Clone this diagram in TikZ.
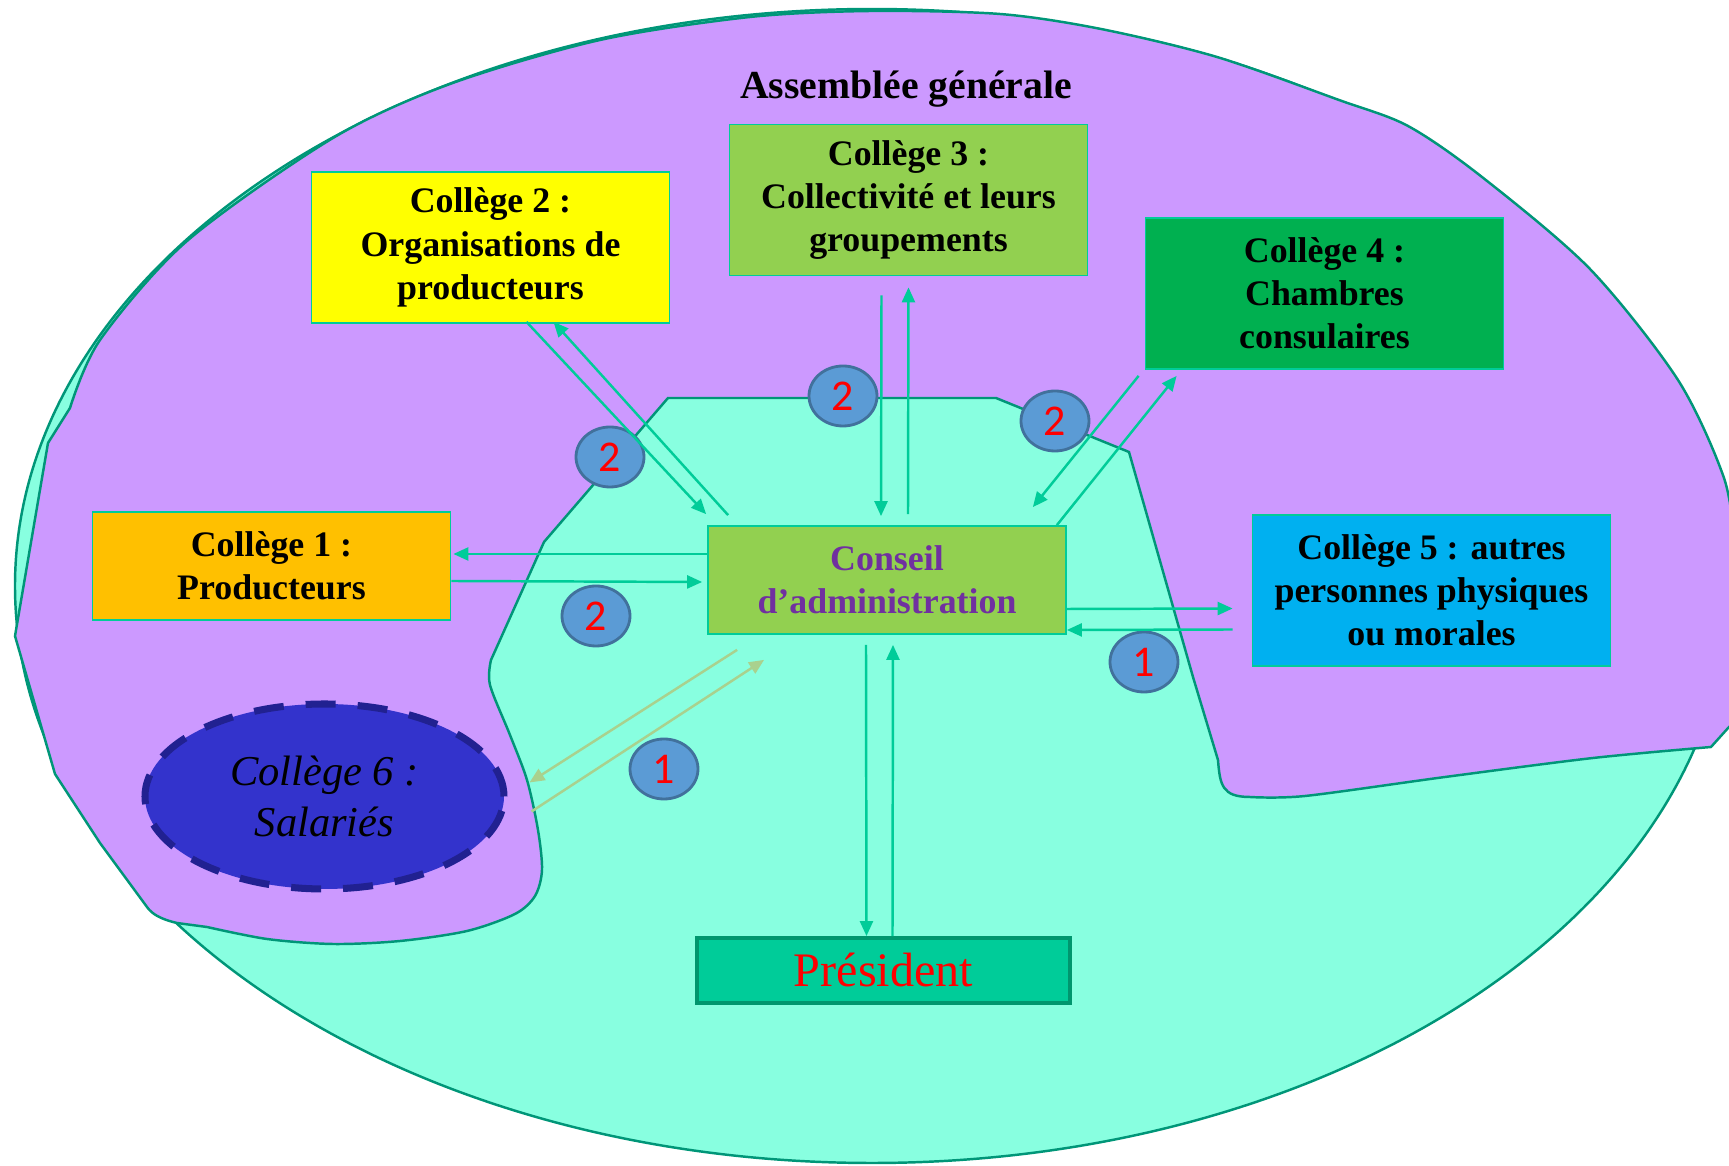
\documentclass[tikz,border=0pt]{standalone}
\usepackage{fontspec}
\setmainfont{Liberation Serif}
\newfontfamily\numfont{Carlito}
\usepackage{tikz}
\usetikzlibrary{positioning}
\usetikzlibrary{calc}
\usetikzlibrary{arrows.meta}
\usetikzlibrary{shapes.geometric}
\usepackage{xcolor}

\definecolor{aqua}{RGB}{136,255,224}
\definecolor{lilas}{RGB}{204,153,255}
\definecolor{bord}{RGB}{0,150,120}
\definecolor{fleche}{RGB}{0,204,153}
\definecolor{flechepale}{RGB}{169,209,142}
\definecolor{jaune}{RGB}{255,255,0}
\definecolor{orangeC}{RGB}{255,192,0}
\definecolor{vertclair}{RGB}{146,208,80}
\definecolor{vertfonce}{RGB}{0,176,80}
\definecolor{bleuciel}{RGB}{0,176,240}
\definecolor{vertpres}{RGB}{0,204,153}
\definecolor{bordpres}{RGB}{0,150,110}
\definecolor{bleuC}{RGB}{51,51,204}
\definecolor{bordC}{RGB}{33,33,145}
\definecolor{bleupastille}{RGB}{91,155,213}
\definecolor{bordpastille}{RGB}{65,113,156}
\definecolor{violetCA}{RGB}{112,48,160}

\begin{document}
\begin{tikzpicture}[x=0.1mm, y=-0.1mm,
		college/.style={draw=fleche, line width=0.5pt, minimum width=35.8mm, minimum height=15.1mm, inner sep=0pt, align=center, font=\bfseries\fontsize{10.2}{12.3}\selectfont},
		pastille/.style={ellipse, draw=bordpastille, line width=0.8pt, fill=bleupastille, minimum width=6.8mm, minimum height=6mm, inner sep=0pt, text=red, font=\numfont\fontsize{12.5}{12.5}\selectfont},
		lien/.style={draw=fleche, line width=0.7pt, -{Triangle[length=1.5mm, width=1.3mm]}},
		lienpale/.style={lien, draw=flechepale}]
	\useasboundingbox (0,0) rectangle (1729,1166);
	\filldraw[fill=aqua, draw=bord, line width=0.7pt] (872,586) ellipse [x radius=857, y radius=577];
	\filldraw[fill=lilas, draw=bord, line width=0.7pt] (15,636) -- (48,443) -- (70,408)
		-- plot [smooth] coordinates {(70,408) (100,340) (187,241) (333,138) (450,84) (600,40) (750,17) (871,11) (1000,14) (1101,29) (1217,57) (1339,100) (1408,126) (1482,177) (1590,269) (1678,380) (1724,478) (1735,545)}
		-- (1760,545) -- (1760,700) -- (1729,727) -- (1711,747)
		-- plot [smooth] coordinates {(1711,747) (1593,758) (1445,777) (1305,796) (1250,797)}
		.. controls (1222,797) and (1220,785) .. (1218,760)
		-- (1193,677) -- (1129,452) -- (996,398) -- (668,398) -- (544,542) -- (491,660)
		-- plot [smooth] coordinates {(491,660) (490,685) (510,735) (527,780) (538,830) (542,870) (535,896) (515,914) (467,931) (400,941) (333,944) (267,939) (207,927)}
		-- (177,923) .. controls (160,919) and (152,914) .. (147,907)
		-- (100,843) -- (55,774) -- cycle;

	\node[font=\bfseries\fontsize{11.3}{13}\selectfont, anchor=base] (ag) at (906,99) {Assemblée générale};
	\node[college, fill=jaune] (c2) at (490.5,247.5) {Collège 2 :\\Organisations de\\producteurs};
	\node[college, fill=vertclair] (c3) at (908.5,200) {Collège 3 :\\Collectivité et leurs\\groupements};
	\node[college, fill=vertfonce] (c4) at (1324.5,293.5) {Collège 4 :\\Chambres\\consulaires};
	\node[college, fill=orangeC, minimum height=10.8mm] (c1) at (271.5,566) {Collège 1 :\\Producteurs};
	\node[college, fill=bleuciel] (c5) at (1431.5,590.5) {Collège 5 : autres\\personnes physiques\\ou morales};
	\node[college, fill=vertclair, minimum height=10.8mm, text=violetCA] (ca) at (887,580) {Conseil\\d’administration};
	\node[college, fill=vertpres, draw=bordpres, line width=1.1pt, minimum width=37.3mm, minimum height=6.5mm, font=\fontsize{13.7}{14}\selectfont, text=red] (pr) at (883.5,970.5) {Président};
	\node[ellipse, fill=bleuC, draw=bordC, line width=2pt, dash pattern=on 3mm off 2.2mm, minimum width=35.9mm, minimum height=18.5mm, inner sep=0pt, align=center, font=\itshape\fontsize{12.1}{14.6}\selectfont] (c6) at (324.5,796.5) {Collège 6 :\\Salariés};

	\node[pastille] (p1) at (610,457) {2};
	\node[pastille] (p2) at (843,396) {2};
	\node[pastille] (p3) at (1055,421) {2};
	\node[pastille] (p4) at (596,616) {2};
	\node[pastille] (p5) at (664,769) {1};
	\node[pastille] (p6) at (1144,662) {1};

	\draw[lien] ($(c2.south)+(36,-2)$) -- ($(ca.north west)+(-1,-11)$);
	\draw[lien] ($(ca.north west)+(21,-10)$) -- ($(c2.south)+(63,-2)$);
	\draw[lien] ($(ca.west)+(0,-26)$) -- ($(c1.east)+(2,-12)$);
	\draw[lien] ($(c1.east)+(0,15)$) -- ($(ca.west)+(-5,2)$);
	\draw[lien] ($(c3.south)+(-27,19)$) -- ($(ca.north)+(-6,-9)$);
	\draw[lien] ($(ca.north)+(21,-11)$) -- ($(c3.south)+(0,11)$);
	\draw[lien] ($(c4.south west)+(-6,6)$) -- ($(ca.north east)+(-34,-18)$);
	\draw[lien] ($(ca.north east)+(-10,0)$) -- ($(c4.south west)+(32,6)$);
	\draw[lien] ($(ca.east)+(0,29)$) -- ($(c5.west)+(-19,18)$);
	\draw[lien] ($(c5.west)+(-19,39)$) -- ($(ca.east)+(0,50)$);
	\draw[lienpale] ($(ca.south west)+(30,15)$) -- ($(c6.east)+(22,-14)$);
	\draw[lienpale] ($(c6.east)+(24,15)$) -- ($(ca.south west)+(57,25)$);
	\draw[lien] ($(ca.south)+(-21,10)$) -- ($(pr.north)+(-17,0)$);
	\draw[lien] ($(pr.north)+(9,0)$) -- ($(ca.south)+(6,10)$);
\end{tikzpicture}
\end{document}
